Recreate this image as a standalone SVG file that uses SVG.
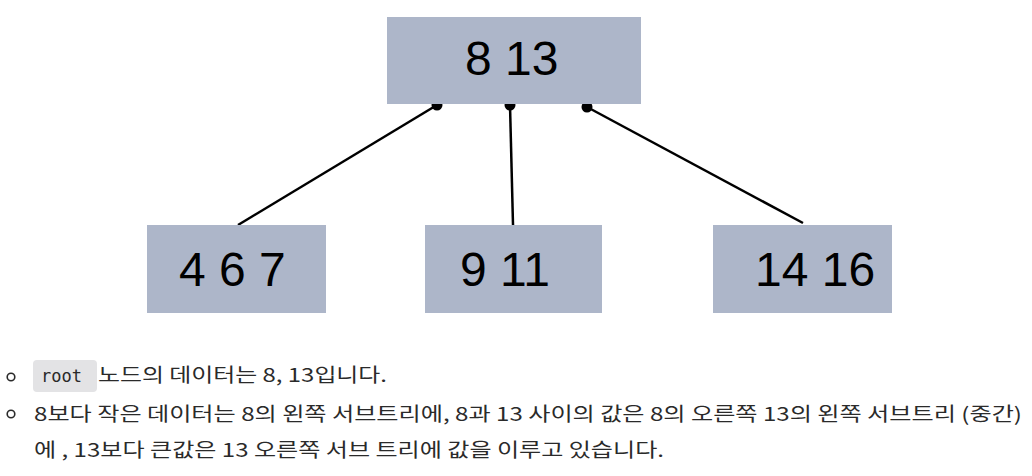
<svg xmlns="http://www.w3.org/2000/svg" width="1032" height="476" viewBox="0 0 1032 476">
<style>
.box{fill:#adb6c9}
.num{font-family:"Liberation Sans",Arial,sans-serif;font-size:48px;fill:#000}
.edge{stroke:#000;stroke-width:2.5;fill:none}
.dot{fill:#000}
.kr{font-family:"Noto Sans CJK KR","Noto Sans",sans-serif;font-size:19px;fill:#2a2a2a}
.code{font-family:"DejaVu Sans Mono","Liberation Mono",monospace;font-size:17px;fill:#2a2a2a}
.bul{fill:none;stroke:#2a2a2a;stroke-width:1.6}
</style>
<rect width="1032" height="476" fill="#fff"/>
<g id="connectors">
<line class="edge" x1="437" y1="105" x2="238" y2="225"/>
<line class="edge" x1="510" y1="105" x2="513" y2="225"/>
<line class="edge" x1="587" y1="107" x2="803" y2="223"/>
<circle class="dot" cx="437" cy="105" r="5.5"/>
<circle class="dot" cx="510" cy="105" r="5.5"/>
<circle class="dot" cx="587" cy="107" r="5.5"/>
</g>
<g id="root">
<rect class="box" x="387" y="17" width="254" height="87"/>
<text class="num" x="465" y="75">8 13</text>
</g>
<g id="left">
<rect class="box" x="147" y="225" width="179" height="88"/>
<text class="num" x="179" y="286">4 6 7</text>
</g>
<g id="middle">
<rect class="box" x="425" y="225" width="177" height="88"/>
<text class="num" x="460" y="286">9 11</text>
</g>
<g id="right">
<rect class="box" x="713" y="225" width="179" height="88"/>
<text class="num" x="755" y="286">14 16</text>
</g>
<g id="notes">
<circle class="bul" cx="11" cy="377" r="3.8"/>
<rect x="33" y="360" width="64" height="32" rx="4" fill="#e3e3e5"/>
<text class="code" x="41" y="382">root</text>
<text class="kr" x="98" y="382" textLength="289" lengthAdjust="spacingAndGlyphs">노드의 데이터는 8, 13입니다.</text>
<circle class="bul" cx="11" cy="414" r="3.8"/>
<text class="kr" x="34" y="421" textLength="988" lengthAdjust="spacingAndGlyphs">8보다 작은 데이터는 8의 왼쪽 서브트리에, 8과 13 사이의 값은 8의 오른쪽 13의 왼쪽 서브트리 (중간)</text>
<text class="kr" x="34" y="457" textLength="630" lengthAdjust="spacingAndGlyphs">에 , 13보다 큰값은 13 오른쪽 서브 트리에 값을 이루고 있습니다.</text>
</g>
</svg>
